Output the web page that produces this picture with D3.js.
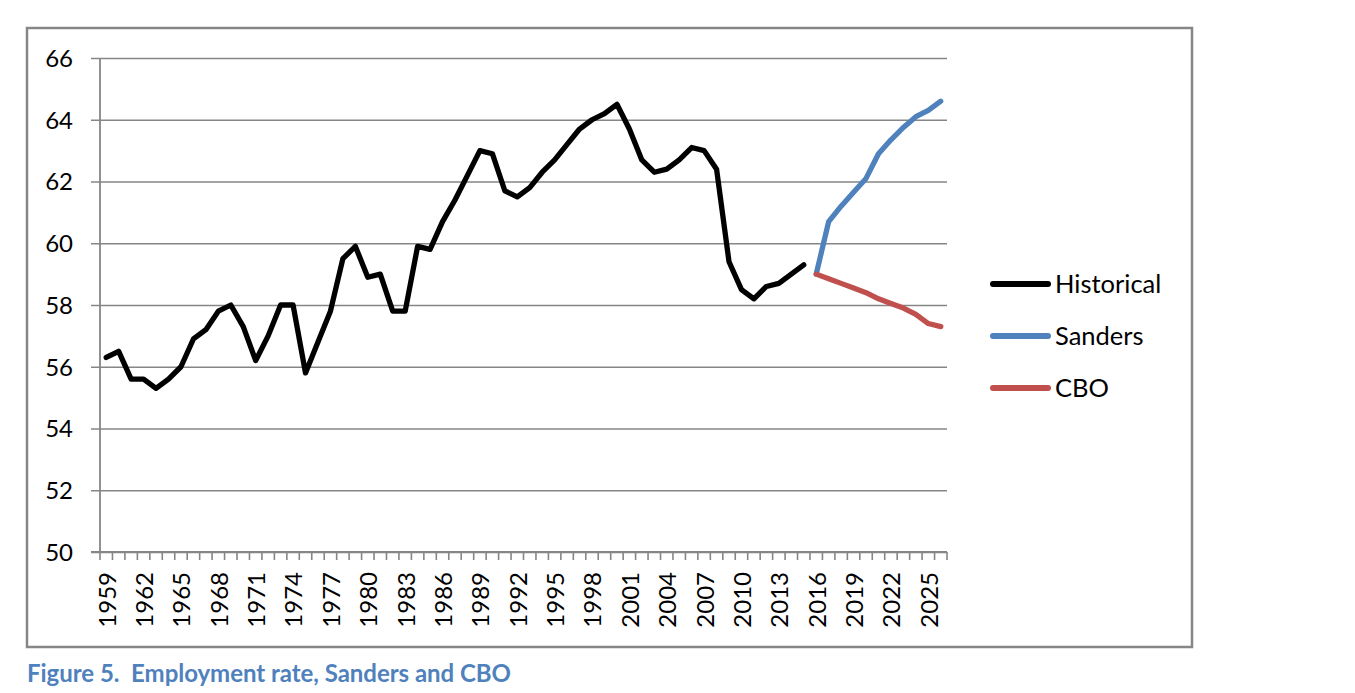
<!DOCTYPE html>
<html>
<head>
<meta charset="utf-8">
<script src="https://cdn.jsdelivr.net/npm/d3@7"></script>
<style>
  html, body { margin: 0; padding: 0; background: #fff; }
  svg { display: block; }
  text { font-family: Lato, "Open Sans", sans-serif; }
</style>
</head>
<body>
<svg id="chart" width="1355" height="693"></svg>
<script>
// ---- data ----
const years = d3.range(1959, 2027);
const historicalYears = d3.range(1959, 2016);
const historicalValues = [
  56.3, 56.5, 55.6, 55.6, 55.3, 55.6, 56.0, 56.9, 57.2, 57.8,
  58.0, 57.3, 56.2, 57.0, 58.0, 58.0, 55.8, 56.8, 57.8, 59.5,
  59.9, 58.9, 59.0, 57.8, 57.8, 59.9, 59.8, 60.7, 61.4, 62.2,
  63.0, 62.9, 61.7, 61.5, 61.8, 62.3, 62.7, 63.2, 63.7, 64.0,
  64.2, 64.5, 63.7, 62.7, 62.3, 62.4, 62.7, 63.1, 63.0, 62.4,
  59.4, 58.5, 58.2, 58.6, 58.7, 59.0, 59.3
];
const projectionYears = d3.range(2016, 2027);
const sandersValues = [59.0, 60.7, 61.2, 61.65, 62.1, 62.9, 63.35, 63.75, 64.1, 64.3, 64.6];
const cboValues = [59.0, 58.85, 58.7, 58.55, 58.4, 58.2, 58.05, 57.9, 57.7, 57.4, 57.3];
const xTickLabels = ["1959","1962","1965","1968","1971","1974","1977","1980","1983","1986","1989",
  "1992","1995","1998","2001","2004","2007","2010","2013","2016","2019","2022","2025"];
const yTicks = [50, 52, 54, 56, 58, 60, 62, 64, 66];
const seriesNames = ["Historical", "Sanders", "CBO"];
const seriesColors = ["#000000", "#4F81BD", "#C0504D"];
const caption = "Figure 5.  Employment rate, Sanders and CBO";

// ---- layout ----
const svg = d3.select("#chart");
const L = 100, R = 947, T = 58, B = 552;
const gridColor = "#868686";

// outer border
svg.append("rect")
  .attr("x", 27).attr("y", 28).attr("width", 1165).attr("height", 619)
  .attr("fill", "none").attr("stroke", gridColor).attr("stroke-width", 2.5);

const x = d3.scaleBand().domain(years).range([L, R]).padding(0);
const y = d3.scaleLinear().domain([50, 66]).range([B, T]);
const cx = yr => x(yr) + x.bandwidth() / 2;

// gridlines + y axis labels
const yAxis = d3.axisLeft(y).tickValues(yTicks).tickSize(-(R - L)).tickPadding(18).tickFormat(d3.format("d"));
const gy = svg.append("g").attr("transform", `translate(${L},0)`).call(yAxis);
gy.select(".domain").remove();
gy.selectAll(".tick line").attr("stroke", gridColor).attr("stroke-width", 1.6).attr("x1", -9);
gy.selectAll(".tick text").attr("font-size", 24).attr("fill", "#000").attr("x", -27).attr("dy", "0.35em");

// left axis line
svg.append("line").attr("x1", L).attr("x2", L).attr("y1", T).attr("y2", B)
  .attr("stroke", gridColor).attr("stroke-width", 1.8);

// x axis line + ticks at category boundaries
svg.append("line").attr("x1", L - 9).attr("x2", R).attr("y1", B).attr("y2", B)
  .attr("stroke", gridColor).attr("stroke-width", 1.8);
const boundaries = years.map(yr => x(yr)).concat([R]);
svg.append("g").selectAll("line").data(boundaries).join("line")
  .attr("x1", d => d).attr("x2", d => d).attr("y1", B).attr("y2", B + 8)
  .attr("stroke", gridColor).attr("stroke-width", 1.6);

// x tick labels (rotated)
svg.append("g").selectAll("text").data(xTickLabels).join("text")
  .attr("transform", d => `translate(${cx(+d) + 1},${B + 20}) rotate(-90)`)
  .attr("text-anchor", "end").attr("dy", "0.35em")
  .attr("font-size", 24).attr("fill", "#000")
  .text(d => d);

// lines
const line = d3.line().x(d => cx(d[0])).y(d => y(d[1]));
const seriesData = [
  historicalYears.map((yr, i) => [yr, historicalValues[i]]),
  projectionYears.map((yr, i) => [yr, sandersValues[i]]),
  projectionYears.map((yr, i) => [yr, cboValues[i]])
];
svg.append("g").selectAll("path").data(seriesData).join("path")
  .attr("d", line).attr("fill", "none")
  .attr("stroke", (d, i) => seriesColors[i])
  .attr("stroke-width", 5.3).attr("stroke-linejoin", "round").attr("stroke-linecap", "round");

// legend
const legY = [284, 336, 388];
const leg = svg.append("g");
seriesNames.forEach((name, i) => {
  leg.append("line").attr("x1", 993).attr("x2", 1048).attr("y1", legY[i]).attr("y2", legY[i])
    .attr("stroke", seriesColors[i]).attr("stroke-width", 6).attr("stroke-linecap", "round");
  leg.append("text").attr("x", 1055).attr("y", legY[i]).attr("dy", "0.35em")
    .attr("font-size", 25.5).attr("fill", "#000").text(name);
});

// caption
svg.append("text").attr("x", 27).attr("y", 682)
  .style("white-space", "pre")
  .attr("font-size", 24).attr("font-weight", "bold").attr("fill", "#4F81BD")
  .attr("textLength", 484).attr("lengthAdjust", "spacing")
  .text(caption);
</script>
</body>
</html>
